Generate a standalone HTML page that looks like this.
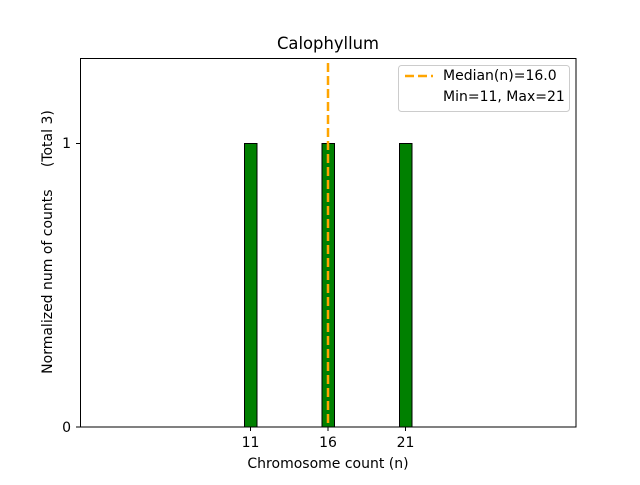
<!DOCTYPE html>
<html><head><style>body{margin:0;background:#fff}</style></head><body>
<svg width="640" height="480" xmlns="http://www.w3.org/2000/svg" font-family="DejaVu Sans, Liberation Sans, sans-serif">
<rect width="640" height="480" fill="#fff"/>
<text x="328" y="49" font-size="16.4" text-anchor="middle">Calophyllum</text>
<g fill="#008000" stroke="#000" stroke-width="1">
<rect x="244.5" y="143.5" width="12.5" height="283.5"/>
<rect x="322" y="143.5" width="12.5" height="283.5"/>
<rect x="399.5" y="143.5" width="12.5" height="283.5"/>
</g>
<line x1="328" y1="63" x2="328" y2="427" stroke="#FFA500" stroke-width="2.5" stroke-dasharray="9,4"/>
<rect x="80.5" y="58.5" width="495.5" height="368.5" fill="none" stroke="#000" stroke-width="1"/>
<g stroke="#000"><line x1="76" y1="143.5" x2="80" y2="143.5"/><line x1="76" y1="427" x2="80" y2="427"/>
<line x1="250.5" y1="427" x2="250.5" y2="431"/><line x1="328" y1="427" x2="328" y2="431"/><line x1="405.5" y1="427" x2="405.5" y2="431"/></g>
<g font-size="14" fill="#000">
<text x="71" y="148" text-anchor="end">1</text>
<text x="71" y="432" text-anchor="end">0</text>
<text x="250.5" y="447" text-anchor="middle">11</text>
<text x="328" y="447" text-anchor="middle">16</text>
<text x="405.5" y="447" text-anchor="middle">21</text>
<text x="328" y="468" text-anchor="middle">Chromosome count (n)</text>
<text transform="translate(52,242) rotate(-90)" text-anchor="middle" xml:space="preserve">Normalized num of counts     (Total 3)</text>
</g>
<rect x="398.5" y="65.5" width="171" height="46" rx="3" fill="#fff" fill-opacity="0.8" stroke="#ccc"/>
<line x1="405" y1="76" x2="433" y2="76" stroke="#FFA500" stroke-width="2.5" stroke-dasharray="9,4"/>
<g font-size="14"><text x="443" y="80">Median(n)=16.0</text><text x="443" y="101">Min=11, Max=21</text></g>
</svg>
</body></html>
